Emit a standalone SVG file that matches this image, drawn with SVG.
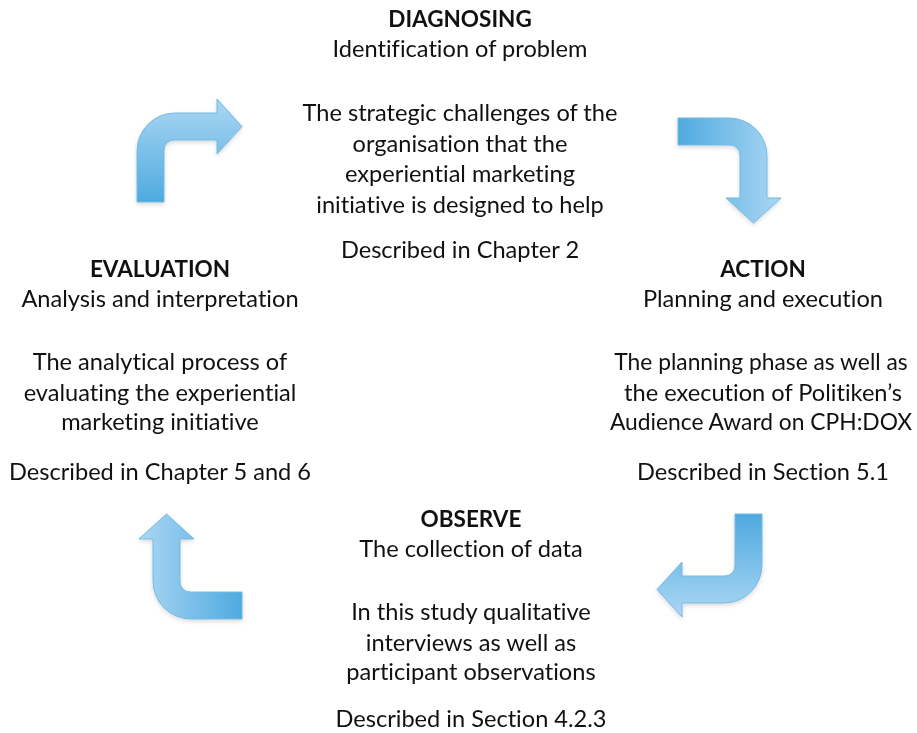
<svg xmlns="http://www.w3.org/2000/svg" xmlns:xlink="http://www.w3.org/1999/xlink" width="917" height="733" viewBox="0 0 917 733">
  <style>
    text { font-family: Lato, "Open Sans", "Liberation Sans", sans-serif; font-size: 23.6px; fill: #111; text-anchor: middle; font-variant-ligatures: none; }
    .title { font-weight: bold; font-size: 22.5px; }
    .tight { font-size: 22.8px; }
    .arrow { fill: url(#arrowFill); stroke: #74b9e3; stroke-width: 1; }
  </style>
  <defs>
    <!-- dark at the tail, light towards the head -->
    <linearGradient id="arrowFill" gradientUnits="userSpaceOnUse" x1="0" y1="105" x2="0" y2="0">
      <stop offset="0" stop-color="#4eaadf"/>
      <stop offset="1" stop-color="#add8f4"/>
    </linearGradient>
    <filter id="shadow" x="-20%" y="-20%" width="140%" height="140%">
      <feDropShadow dx="0" dy="2" stdDeviation="2" flood-color="#000" flood-opacity="0.15"/>
    </filter>
    <!-- bent arrow: rises from the bottom, turns right -->
    <path id="bentArrow" class="arrow" d="M0,105 V54 A38,38 0 0 1 38,16 H80 V2 L105,29.5 L80,57 V43 H37 A10,10 0 0 0 27,53 V105 Z"/>
  </defs>

  <g id="connectors" filter="url(#shadow)">
    <use xlink:href="#bentArrow" transform="translate(137,97)"/>
    <use xlink:href="#bentArrow" transform="translate(678,118) rotate(90 52.5 52.5)"/>
    <use xlink:href="#bentArrow" transform="translate(657,514) rotate(180 52.5 52.5)"/>
    <use xlink:href="#bentArrow" transform="translate(137,514) rotate(270 52.5 52.5)"/>
  </g>

  <g id="diagnosing">
    <text class="title" x="460" y="27">DIAGNOSING</text>
    <text x="460" y="57">Identification of problem</text>
    <text x="460" y="121">The strategic challenges of the</text>
    <text x="460" y="152">organisation that the</text>
    <text x="460" y="182">experiential marketing</text>
    <text x="460" y="213">initiative is designed to help</text>
    <text x="460" y="258">Described in Chapter 2</text>
  </g>

  <g id="action">
    <text class="title" x="763" y="277">ACTION</text>
    <text x="763" y="307">Planning and execution</text>
    <text class="tight" x="761" y="370">The planning phase as well as</text>
    <text x="763" y="401">the execution of Politiken’s</text>
    <text class="tight" x="761" y="430">Audience Award on CPH:DOX</text>
    <text x="763" y="480">Described in Section 5.1</text>
  </g>

  <g id="observe">
    <text class="title" x="471" y="527">OBSERVE</text>
    <text x="471" y="557">The collection of data</text>
    <text x="471" y="620">In this study qualitative</text>
    <text x="471" y="651">interviews as well as</text>
    <text x="471" y="680">participant observations</text>
    <text x="471" y="727">Described in Section 4.2.3</text>
  </g>

  <g id="evaluation">
    <text class="title" x="160" y="277">EVALUATION</text>
    <text x="160" y="307">Analysis and interpretation</text>
    <text x="160" y="370">The analytical process of</text>
    <text x="160" y="401">evaluating the experiential</text>
    <text x="160" y="430">marketing initiative</text>
    <text x="160" y="480">Described in Chapter 5 and 6</text>
  </g>
</svg>
